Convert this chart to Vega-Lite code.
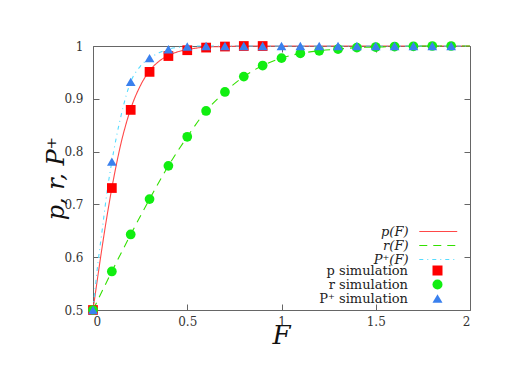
{
  "$schema": "https://vega.github.io/schema/vega-lite/v6.json",
  "width": 377,
  "height": 264,
  "autosize": {"type": "none"},
  "padding": {"left": 93, "top": 46, "right": 59, "bottom": 71},
  "background": "white",
  "config": {
    "view": {"stroke": "#666666", "strokeWidth": 1},
    "font": "DejaVu Serif",
    "axis": {
      "domain": false,
      "grid": false,
      "tickColor": "#666666",
      "tickSize": -6,
      "labelFont": "DejaVu Serif",
      "labelFontSize": 12,
      "labelColor": "#333333",
      "titleFont": "DejaVu Serif",
      "titleColor": "#111111",
      "titleFontStyle": "italic",
      "titleFontWeight": "normal"
    },
    "legend": {
      "orient": "none",
      "title": null,
      "padding": 0,
      "rowPadding": 0,
      "labelFont": "DejaVu Serif",
      "labelFontSize": 13,
      "labelColor": "#222222",
      "labelAlign": "right",
      "labelBaseline": "middle"
    }
  },
  "data": {
    "values": [
      {"F": 0, "v": 0.5, "series": "p(F)", "kind": "curve"},
      {"F": 0.02, "v": 0.55, "series": "p(F)", "kind": "curve"},
      {"F": 0.04, "v": 0.599, "series": "p(F)", "kind": "curve"},
      {"F": 0.06, "v": 0.646, "series": "p(F)", "kind": "curve"},
      {"F": 0.08, "v": 0.69, "series": "p(F)", "kind": "curve"},
      {"F": 0.1, "v": 0.731, "series": "p(F)", "kind": "curve"},
      {"F": 0.125, "v": 0.777, "series": "p(F)", "kind": "curve"},
      {"F": 0.15, "v": 0.818, "series": "p(F)", "kind": "curve"},
      {"F": 0.175, "v": 0.852, "series": "p(F)", "kind": "curve"},
      {"F": 0.2, "v": 0.881, "series": "p(F)", "kind": "curve"},
      {"F": 0.25, "v": 0.924, "series": "p(F)", "kind": "curve"},
      {"F": 0.3, "v": 0.953, "series": "p(F)", "kind": "curve"},
      {"F": 0.35, "v": 0.971, "series": "p(F)", "kind": "curve"},
      {"F": 0.4, "v": 0.982, "series": "p(F)", "kind": "curve"},
      {"F": 0.45, "v": 0.989, "series": "p(F)", "kind": "curve"},
      {"F": 0.5, "v": 0.993, "series": "p(F)", "kind": "curve"},
      {"F": 0.6, "v": 0.998, "series": "p(F)", "kind": "curve"},
      {"F": 0.7, "v": 0.999, "series": "p(F)", "kind": "curve"},
      {"F": 0.8, "v": 1.0, "series": "p(F)", "kind": "curve"},
      {"F": 1.0, "v": 1.0, "series": "p(F)", "kind": "curve"},
      {"F": 1.5, "v": 1.0, "series": "p(F)", "kind": "curve"},
      {"F": 2.0, "v": 1.0, "series": "p(F)", "kind": "curve"},

      {"F": 0, "v": 0.5, "series": "r(F)", "kind": "curve"},
      {"F": 0.1, "v": 0.573, "series": "r(F)", "kind": "curve"},
      {"F": 0.2, "v": 0.643, "series": "r(F)", "kind": "curve"},
      {"F": 0.3, "v": 0.71, "series": "r(F)", "kind": "curve"},
      {"F": 0.4, "v": 0.773, "series": "r(F)", "kind": "curve"},
      {"F": 0.5, "v": 0.828, "series": "r(F)", "kind": "curve"},
      {"F": 0.6, "v": 0.877, "series": "r(F)", "kind": "curve"},
      {"F": 0.7, "v": 0.913, "series": "r(F)", "kind": "curve"},
      {"F": 0.8, "v": 0.942, "series": "r(F)", "kind": "curve"},
      {"F": 0.9, "v": 0.963, "series": "r(F)", "kind": "curve"},
      {"F": 1.0, "v": 0.977, "series": "r(F)", "kind": "curve"},
      {"F": 1.1, "v": 0.986, "series": "r(F)", "kind": "curve"},
      {"F": 1.2, "v": 0.991, "series": "r(F)", "kind": "curve"},
      {"F": 1.3, "v": 0.994, "series": "r(F)", "kind": "curve"},
      {"F": 1.4, "v": 0.997, "series": "r(F)", "kind": "curve"},
      {"F": 1.5, "v": 0.998, "series": "r(F)", "kind": "curve"},
      {"F": 1.6, "v": 0.999, "series": "r(F)", "kind": "curve"},
      {"F": 1.7, "v": 0.9995, "series": "r(F)", "kind": "curve"},
      {"F": 1.8, "v": 1.0, "series": "r(F)", "kind": "curve"},
      {"F": 1.9, "v": 1.0, "series": "r(F)", "kind": "curve"},
      {"F": 2.0, "v": 1.0, "series": "r(F)", "kind": "curve"},

      {"F": 0, "v": 0.5, "series": "P⁺(F)", "kind": "curve"},
      {"F": 0.025, "v": 0.585, "series": "P⁺(F)", "kind": "curve"},
      {"F": 0.05, "v": 0.655, "series": "P⁺(F)", "kind": "curve"},
      {"F": 0.075, "v": 0.725, "series": "P⁺(F)", "kind": "curve"},
      {"F": 0.1, "v": 0.781, "series": "P⁺(F)", "kind": "curve"},
      {"F": 0.15, "v": 0.87, "series": "P⁺(F)", "kind": "curve"},
      {"F": 0.2, "v": 0.932, "series": "P⁺(F)", "kind": "curve"},
      {"F": 0.25, "v": 0.961, "series": "P⁺(F)", "kind": "curve"},
      {"F": 0.3, "v": 0.977, "series": "P⁺(F)", "kind": "curve"},
      {"F": 0.35, "v": 0.987, "series": "P⁺(F)", "kind": "curve"},
      {"F": 0.4, "v": 0.994, "series": "P⁺(F)", "kind": "curve"},
      {"F": 0.5, "v": 0.999, "series": "P⁺(F)", "kind": "curve"},
      {"F": 0.6, "v": 1.0, "series": "P⁺(F)", "kind": "curve"},
      {"F": 1.0, "v": 1.0, "series": "P⁺(F)", "kind": "curve"},
      {"F": 2.0, "v": 1.0, "series": "P⁺(F)", "kind": "curve"},

      {"F": 0, "v": 0.5, "series": "p simulation", "kind": "sim"},
      {"F": 0.1, "v": 0.731, "series": "p simulation", "kind": "sim"},
      {"F": 0.2, "v": 0.879, "series": "p simulation", "kind": "sim"},
      {"F": 0.3, "v": 0.951, "series": "p simulation", "kind": "sim"},
      {"F": 0.4, "v": 0.981, "series": "p simulation", "kind": "sim"},
      {"F": 0.5, "v": 0.992, "series": "p simulation", "kind": "sim"},
      {"F": 0.6, "v": 0.997, "series": "p simulation", "kind": "sim"},
      {"F": 0.7, "v": 0.999, "series": "p simulation", "kind": "sim"},
      {"F": 0.8, "v": 1.0, "series": "p simulation", "kind": "sim"},
      {"F": 0.9, "v": 1.0, "series": "p simulation", "kind": "sim"},

      {"F": 0, "v": 0.5, "series": "r simulation", "kind": "sim"},
      {"F": 0.1, "v": 0.573, "series": "r simulation", "kind": "sim"},
      {"F": 0.2, "v": 0.643, "series": "r simulation", "kind": "sim"},
      {"F": 0.3, "v": 0.71, "series": "r simulation", "kind": "sim"},
      {"F": 0.4, "v": 0.773, "series": "r simulation", "kind": "sim"},
      {"F": 0.5, "v": 0.828, "series": "r simulation", "kind": "sim"},
      {"F": 0.6, "v": 0.877, "series": "r simulation", "kind": "sim"},
      {"F": 0.7, "v": 0.913, "series": "r simulation", "kind": "sim"},
      {"F": 0.8, "v": 0.942, "series": "r simulation", "kind": "sim"},
      {"F": 0.9, "v": 0.963, "series": "r simulation", "kind": "sim"},
      {"F": 1.0, "v": 0.977, "series": "r simulation", "kind": "sim"},
      {"F": 1.1, "v": 0.986, "series": "r simulation", "kind": "sim"},
      {"F": 1.2, "v": 0.991, "series": "r simulation", "kind": "sim"},
      {"F": 1.3, "v": 0.994, "series": "r simulation", "kind": "sim"},
      {"F": 1.4, "v": 0.997, "series": "r simulation", "kind": "sim"},
      {"F": 1.5, "v": 0.998, "series": "r simulation", "kind": "sim"},
      {"F": 1.6, "v": 0.999, "series": "r simulation", "kind": "sim"},
      {"F": 1.7, "v": 0.9995, "series": "r simulation", "kind": "sim"},
      {"F": 1.8, "v": 1.0, "series": "r simulation", "kind": "sim"},
      {"F": 1.9, "v": 1.0, "series": "r simulation", "kind": "sim"},

      {"F": 0, "v": 0.5, "series": "P⁺ simulation", "kind": "sim"},
      {"F": 0.1, "v": 0.781, "series": "P⁺ simulation", "kind": "sim"},
      {"F": 0.2, "v": 0.932, "series": "P⁺ simulation", "kind": "sim"},
      {"F": 0.3, "v": 0.977, "series": "P⁺ simulation", "kind": "sim"},
      {"F": 0.4, "v": 0.994, "series": "P⁺ simulation", "kind": "sim"},
      {"F": 0.5, "v": 0.999, "series": "P⁺ simulation", "kind": "sim"},
      {"F": 0.6, "v": 1.0, "series": "P⁺ simulation", "kind": "sim"},
      {"F": 0.7, "v": 1.0, "series": "P⁺ simulation", "kind": "sim"},
      {"F": 0.8, "v": 1.0, "series": "P⁺ simulation", "kind": "sim"},
      {"F": 0.9, "v": 1.0, "series": "P⁺ simulation", "kind": "sim"},
      {"F": 1.0, "v": 1.0, "series": "P⁺ simulation", "kind": "sim"},
      {"F": 1.1, "v": 1.0, "series": "P⁺ simulation", "kind": "sim"},
      {"F": 1.2, "v": 1.0, "series": "P⁺ simulation", "kind": "sim"},
      {"F": 1.3, "v": 1.0, "series": "P⁺ simulation", "kind": "sim"},
      {"F": 1.4, "v": 1.0, "series": "P⁺ simulation", "kind": "sim"},
      {"F": 1.5, "v": 1.0, "series": "P⁺ simulation", "kind": "sim"},
      {"F": 1.6, "v": 1.0, "series": "P⁺ simulation", "kind": "sim"},
      {"F": 1.7, "v": 1.0, "series": "P⁺ simulation", "kind": "sim"},
      {"F": 1.8, "v": 1.0, "series": "P⁺ simulation", "kind": "sim"},
      {"F": 1.9, "v": 1.0, "series": "P⁺ simulation", "kind": "sim"}
    ]
  },
  "layer": [
    {
      "transform": [{"filter": "datum.kind === 'curve'"}],
      "mark": {"type": "line", "interpolate": "monotone", "strokeWidth": 1.1},
      "encoding": {
        "x": {
          "field": "F", "type": "quantitative",
          "scale": {"domain": [0, 2], "nice": false, "zero": false},
          "axis": {
            "orient": "bottom", "values": [0, 0.5, 1, 1.5, 2], "format": "~g",
            "labelPadding": 12, "title": "F", "titleFontSize": 26,
            "titleX": 188, "titleY": 33, "titleBaseline": "alphabetic", "titleAlign": "center"
          }
        },
        "y": {
          "field": "v", "type": "quantitative",
          "scale": {"domain": [0.5, 1], "nice": false, "zero": false},
          "axis": {
            "orient": "left", "values": [0.5, 0.6, 0.7, 0.8, 0.9, 1], "format": "~g",
            "labelPadding": 16, "title": "p, r, P⁺", "titleFontSize": 24,
            "titleX": -37, "titleY": 132, "titleAngle": -90, "titleBaseline": "middle", "titleAlign": "center"
          }
        },
        "color": {
          "field": "series", "type": "nominal",
          "scale": {"domain": ["p(F)", "r(F)", "P⁺(F)"], "range": ["#ff4848", "#33e000", "#55dcff"]},
          "legend": {
            "legendX": 338.75, "legendY": 179, "symbolSize": 90, "symbolStrokeWidth": 1.2,
            "symbolType": "M-4,0H4",
            "symbolStrokeColor": {"expr": "datum.label === 'p(F)' ? '#ff4848' : (datum.label === 'r(F)' ? '#33e000' : '#55dcff')"},
            "labelOffset": -36.25, "labelFontStyle": "italic"
          }
        },
        "strokeDash": {
          "field": "series", "type": "nominal",
          "scale": {"domain": ["p(F)", "r(F)", "P⁺(F)"], "range": [[1, 0], [8, 6], [4, 4, 1, 4]]}
        }
      }
    },
    {
      "transform": [{"filter": "datum.kind === 'sim'"}],
      "mark": {"type": "point", "filled": true, "size": 95, "opacity": 1, "strokeWidth": 0},
      "encoding": {
        "x": {
          "field": "F", "type": "quantitative",
          "scale": {"domain": [0, 2], "nice": false, "zero": false},
          "axis": {"orient": "top", "values": [0, 0.5, 1, 1.5, 2], "labels": false, "title": null}
        },
        "y": {
          "field": "v", "type": "quantitative",
          "scale": {"domain": [0.5, 1], "nice": false, "zero": false},
          "axis": {"orient": "right", "values": [0.5, 0.6, 0.7, 0.8, 0.9, 1], "labels": false, "title": null}
        },
        "fill": {
          "field": "series", "type": "nominal",
          "scale": {"domain": ["p simulation", "r simulation", "P⁺ simulation"], "range": ["#ff0000", "#11ee11", "#3a80ee"]},
          "legend": {
            "legendX": 338, "legendY": 218, "symbolSize": 100, "symbolStrokeWidth": 0,
            "labelOffset": -36
          }
        },
        "shape": {
          "field": "series", "type": "nominal",
          "scale": {"domain": ["p simulation", "r simulation", "P⁺ simulation"], "range": ["square", "circle", "triangle-up"]}
        }
      }
    }
  ],
  "resolve": {"axis": {"x": "independent", "y": "independent"}}
}
